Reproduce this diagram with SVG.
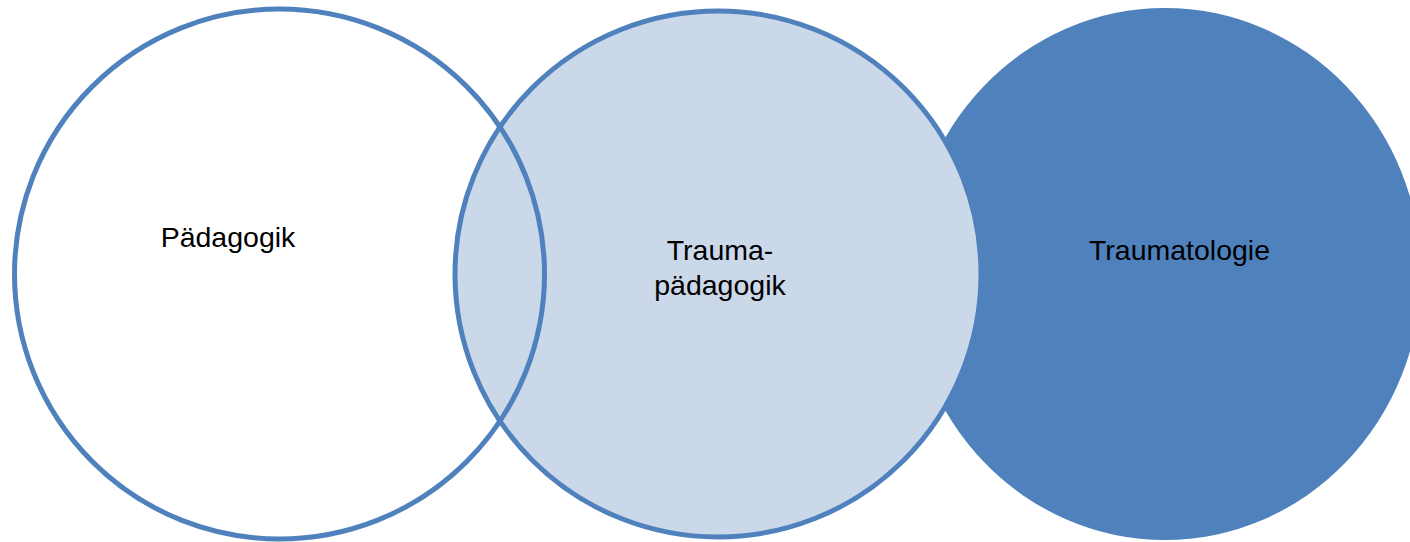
<svg xmlns="http://www.w3.org/2000/svg" width="1410" height="542" viewBox="0 0 1410 542">
<style>
.lbl{font-family:"Liberation Sans",Arial,sans-serif;font-size:28.5px;fill:#000;text-anchor:middle}
.ring{stroke:#4F81BD;stroke-width:5}
</style>
<rect width="1410" height="542" fill="#fff"/>
<g id="traumatologie">
<ellipse cx="1165" cy="274" rx="256" ry="266" fill="#4F81BD"/>
<text class="lbl" x="1179.5" y="260">Traumatologie</text>
</g>
<g id="traumapaedagogik">
<circle class="ring" cx="718" cy="274" r="263" fill="#CBD8EA"/>
<text class="lbl" x="720" y="260">Trauma-</text>
<text class="lbl" x="720" y="295">pädagogik</text>
</g>
<g id="paedagogik">
<circle class="ring" cx="279.5" cy="274" r="265" fill="none"/>
<text class="lbl" x="228" y="247">Pädagogik</text>
</g>
</svg>
